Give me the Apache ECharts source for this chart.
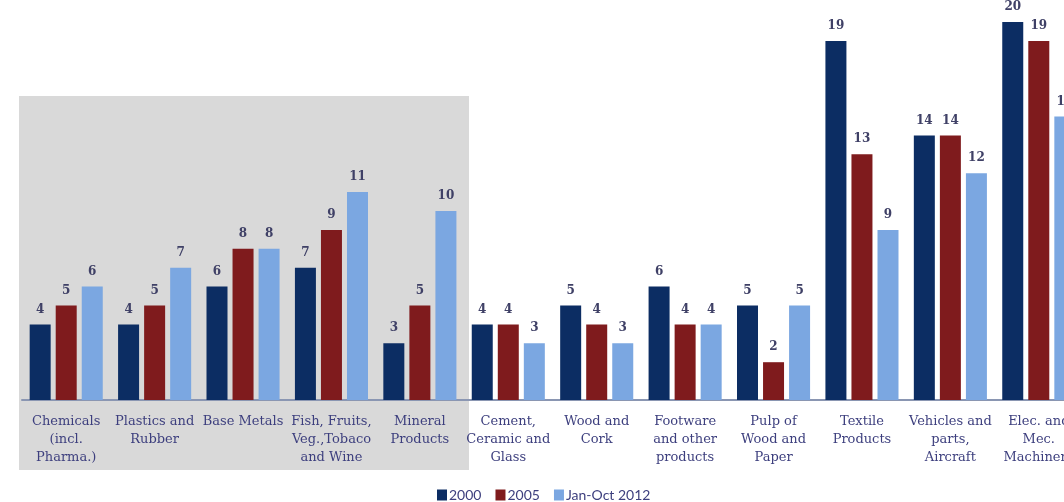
<!DOCTYPE html>
<html>
<head>
<meta charset="utf-8">
<script src="https://cdn.jsdelivr.net/npm/echarts@6/dist/echarts.min.js"></script>
<style>
  html, body { margin: 0; padding: 0; background: #ffffff; overflow: hidden; }
  #wrap { width: 1064px; height: 502px; overflow: hidden; }
  /* the drawing is wider than the view: the last group runs off the right edge */
  #chart { width: 1083px; height: 502px; }
</style>
</head>
<body>
<div id="wrap"><div id="chart"></div></div>
<script>
// Product groups (multi-line axis labels)
const categories = [
  'Chemicals\n(incl.\nPharma.)',
  'Plastics and\nRubber',
  'Base Metals',
  'Fish, Fruits,\nVeg.,Tobaco\nand Wine',
  'Mineral\nProducts',
  'Cement,\nCeramic and\nGlass',
  'Wood and\nCork',
  'Footware\nand other\nproducts',
  'Pulp of\nWood and\nPaper',
  'Textile\nProducts',
  'Vehicles and\nparts,\nAircraft',
  'Elec. and\nMec.\nMachinery'
];

const seriesNames = ['2000', '2005', 'Jan-Oct 2012'];
const values2000 = [4, 4, 6, 7, 3, 4, 5, 6, 5, 19, 14, 20];
const values2005 = [5, 5, 8, 9, 5, 4, 4, 4, 2, 13, 14, 19];
const values2012 = [6, 7, 8, 11, 10, 3, 3, 4, 5, 9, 12, 15];

const colors = ['#0c2d63', '#7f1b1d', '#7ba7e1'];

const chart = echarts.init(document.getElementById('chart'), null, { renderer: 'canvas' });

function barSeries(name, data, color) {
  return {
    name: name,
    type: 'bar',
    data: data,
    barWidth: 21,
    barGap: '24%',
    itemStyle: { color: color },
    label: {
      show: true,
      position: 'top',
      distance: 9,
      color: '#3f4066',
      fontFamily: 'DejaVu Serif',
      fontWeight: 'bold',
      fontSize: 12
    },
    z: 2
  };
}

chart.setOption({
  animation: false,
  backgroundColor: '#ffffff',
  graphic: [{
    // shaded block behind the first five groups
    type: 'rect',
    z: 0,
    shape: { x: 19, y: 96, width: 450, height: 374 },
    style: { fill: '#d9d9d9' },
    silent: true
  }],
  grid: { left: 22, top: 22, right: 0, bottom: 102, containLabel: false },
  legend: {
    left: 432,
    top: 483,
    itemWidth: 10,
    itemHeight: 11,
    itemGap: 14,
    icon: 'rect',
    textStyle: { color: '#3d3f7e', fontFamily: 'Lato', fontSize: 14, padding: [0, 0, 0, -3] },
    data: seriesNames
  },
  xAxis: {
    type: 'category',
    data: categories,
    axisLine: { lineStyle: { color: '#8a96b2', width: 2 } },
    axisTick: { show: false },
    axisLabel: {
      interval: 0,
      margin: 13,
      color: '#3d3f7e',
      fontFamily: 'DejaVu Serif',
      fontSize: 13,
      lineHeight: 18
    }
  },
  yAxis: {
    type: 'value',
    min: 0,
    max: 20,
    show: false,
    splitLine: { show: false }
  },
  series: [
    barSeries(seriesNames[0], values2000, colors[0]),
    barSeries(seriesNames[1], values2005, colors[1]),
    barSeries(seriesNames[2], values2012, colors[2])
  ]
});
</script>
</body>
</html>
